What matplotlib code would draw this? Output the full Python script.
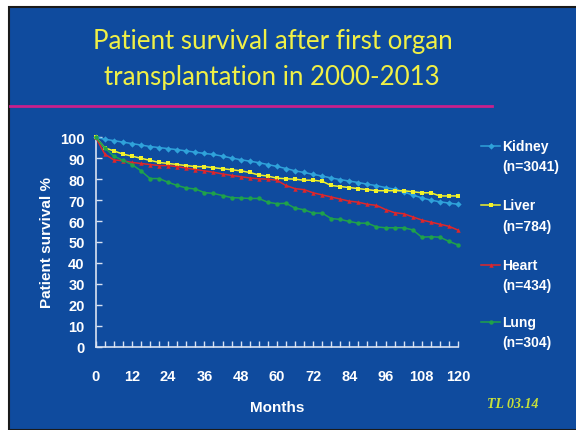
import numpy as np
import matplotlib.pyplot as plt
from matplotlib.patches import Rectangle
from matplotlib.lines import Line2D

# -------------------------
# Data (survival %, every 3 months)
# -------------------------
months = list(range(0, 121, 3))

kidney = [100, 99.1, 98.4, 97.7, 97.0, 96.3, 95.6, 95.1, 94.6, 94.1, 93.5, 92.9,
          92.3, 91.8, 91.0, 90.1, 89.3, 88.6, 87.9, 87.0, 86.1, 85.1, 84.0, 83.2,
          82.3, 81.5, 80.6, 79.8, 79.1, 78.4, 77.6, 76.9, 76.0, 75.2, 74.0, 72.4,
          71.1, 70.0, 69.2, 68.6, 68]

liver = [100, 95, 93.5, 92, 91, 90, 89, 88, 87.5, 87, 86.5, 86, 86, 85.5, 85,
         84.5, 84, 83.2, 82, 81.5, 80.5, 80.2, 80, 79.5, 79.5, 79, 77, 76.5, 76,
         75.5, 75, 74.5, 74.5, 74.5, 74.5, 74, 73.5, 73.5, 72, 72, 72]

heart = [100, 92, 89.2, 88.8, 88, 87.5, 87, 86.5, 86.5, 86, 85.3, 84.6, 84,
         83.3, 82.5, 81.8, 81.2, 80.6, 80.2, 80, 79.5, 77, 75.5, 75, 73.5, 72.5,
         71.5, 70.5, 69.5, 69, 68, 67.5, 65.5, 64, 63.5, 62, 60.5, 59.5, 58.5,
         57.5, 55.7]

lung = [100, 95, 91, 89, 87, 84, 80.3, 80.3, 78.5, 77, 75.8, 75.3, 73.6, 73.2,
        72.2, 71.2, 71, 70.8, 70.8, 69, 68.3, 68.5, 66.2, 65.4, 63.8, 63.8, 61.2,
        60.8, 59.8, 59, 59, 57.2, 56.8, 56.8, 56.8, 55.8, 52.3, 52.5, 52.3, 50.3,
        48.6]

series_names = ["Kidney", "Liver", "Heart", "Lung"]
series_n = ["(n=3041)", "(n=784)", "(n=434)", "(n=304)"]
series_vals = [kidney, liver, heart, lung]
series_colors = ["#2fa2da", "#f2f22a", "#e0262a", "#1fa24a"]
series_markers = ["D", "s", "^", "o"]

x_ticks = list(range(0, 121, 12))
y_ticks = list(range(0, 101, 10))

BG = "#0f4b9e"
AXC = "#d9e2f2"

fig = plt.figure(figsize=(5.76, 4.31), dpi=100, facecolor="white")

# slide background
fig.patches.append(Rectangle((9 / 576, 0), 1, 1 - 8 / 431, transform=fig.transFigure,
                             facecolor=BG, edgecolor="#1a1a1a", linewidth=1.5, zorder=-5))

fig.text(273 / 576, 1 - 42 / 431, "Patient survival after first organ",
         ha="center", va="center", color="#f0f046", fontsize=18.6, family="Lato")
fig.text(272 / 576, 1 - 77 / 431, "transplantation in 2000-2013",
         ha="center", va="center", color="#f0f046", fontsize=18.6, family="Lato")
fig.add_artist(Line2D([10 / 576, 492 / 576], [1 - 107 / 431, 1 - 107 / 431],
                      transform=fig.transFigure, color="#c8208c", linewidth=2))

ax = fig.add_axes([95.7 / 576, 1 - 347.7 / 431, (458 - 95.7) / 576, (347.7 - 138.3) / 431])
ax.set_facecolor("none")
ax.set_zorder(5)

draw_order = [0, 3, 2, 1]
for i in draw_order:
    ax.plot(months, series_vals[i], color=series_colors[i], marker=series_markers[i],
            markersize=3.2, markeredgewidth=0, linewidth=1.1, clip_on=False, zorder=3 + i)

ax.set_xlim(0, 120)
ax.set_ylim(0, 100)
for s in ["top", "right"]:
    ax.spines[s].set_visible(False)
for s in ["left", "bottom"]:
    ax.spines[s].set_color(AXC)
    ax.spines[s].set_linewidth(1.2)

ax.set_xticks(months, minor=True)
ax.set_xticks(x_ticks)
ax.set_yticks(y_ticks)
ax.tick_params(axis="x", which="both", direction="in", length=4, color=AXC, width=1)
ax.tick_params(axis="y", direction="in", length=4, color=AXC, width=1)
ax.tick_params(axis="x", which="major", pad=16)
ax.tick_params(axis="y", pad=8)
for lab in ax.get_xticklabels() + ax.get_yticklabels():
    lab.set_color("white")
    lab.set_fontweight("bold")
    lab.set_fontsize(10.5)
    lab.set_family("Liberation Sans")

ax.set_xlabel("Months", color="white", fontweight="bold", fontsize=11,
              family="Liberation Sans", labelpad=12)
ax.set_ylabel("Patient survival %", color="white", fontweight="bold", fontsize=11,
              family="Liberation Sans", labelpad=4.5)

# legend on the right
leg_y = [147, 206, 266, 323]
for i in range(4):
    y = 1 - leg_y[i] / 431
    fig.add_artist(Line2D([481 / 576, 500 / 576], [y, y], transform=fig.transFigure,
                          color=series_colors[i], linewidth=1.1))
    fig.add_artist(Line2D([490.5 / 576], [y], transform=fig.transFigure,
                          color=series_colors[i], marker=series_markers[i],
                          markersize=3.2, markeredgewidth=0))
    fig.text(502 / 576, y, series_names[i], ha="left", va="center", color="white",
             fontweight="bold", fontsize=10, family="Liberation Sans")
    fig.text(502 / 576, y - 20.5 / 431, series_n[i], ha="left", va="center",
             color="white", fontweight="bold", fontsize=10, family="Liberation Sans")

fig.text(513 / 576, 1 - 405 / 431, "TL 03.14", ha="center", va="center",
         color="#c6e03a", fontsize=10, fontstyle="italic", fontweight="bold",
         family="Liberation Serif")

fig.savefig("out.png", dpi=100, facecolor="white")
